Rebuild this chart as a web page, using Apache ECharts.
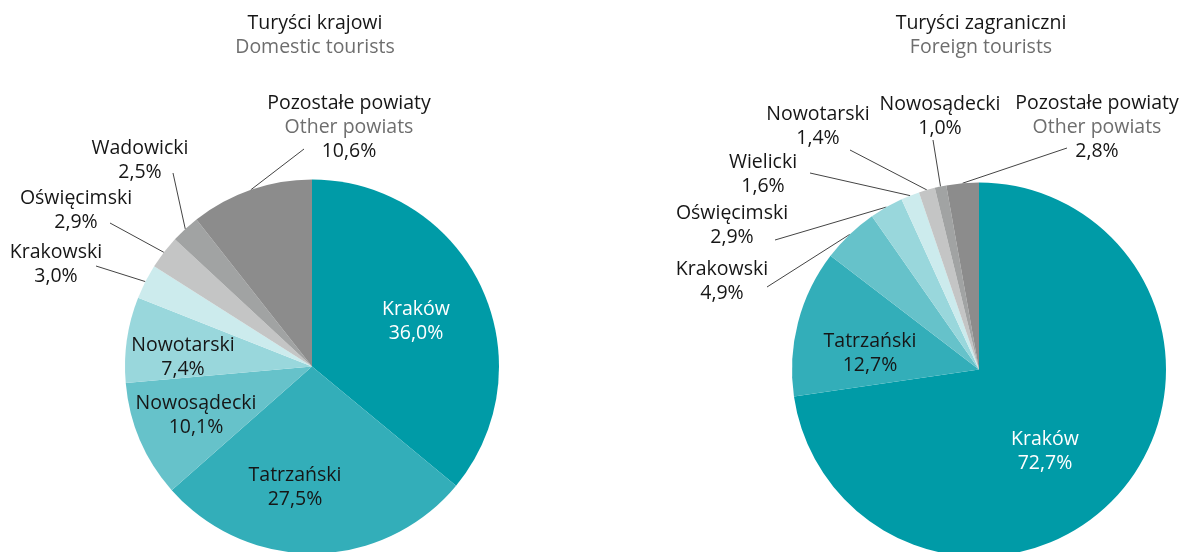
<!DOCTYPE html>
<html>
<head>
<meta charset="utf-8">
<script src="https://cdn.jsdelivr.net/npm/echarts@6/dist/echarts.min.js"></script>
<style>
html,body{margin:0;padding:0;background:#fff;}
#chart{width:1181px;height:552px;}
</style>
</head>
<body>
<div id="chart"></div>
<script>
// ---- data ----
const domesticNames = ['Kraków', 'Tatrzański', 'Nowosądecki', 'Nowotarski', 'Krakowski', 'Oświęcimski', 'Wadowicki', 'Pozostałe powiaty'];
const domesticValues = [36.0, 27.5, 10.1, 7.4, 3.0, 2.9, 2.5, 10.6];
const foreignNames = ['Kraków', 'Tatrzański', 'Krakowski', 'Oświęcimski', 'Wielicki', 'Nowotarski', 'Nowosądecki', 'Pozostałe powiaty'];
const foreignValues = [72.7, 12.7, 4.9, 2.9, 1.6, 1.4, 1.0, 2.8];
const otherNameEn = 'Other powiats';
const titlesPl = ['Turyści krajowi', 'Turyści zagraniczni'];
const titlesEn = ['Domestic tourists', 'Foreign tourists'];

// ---- styles / layout ----
const FONT = 'Open Sans';
const FS = 19.5;
const sliceColors = ['#009BA7', '#33AEB9', '#66C2CA', '#99D7DC', '#CCEBED', '#C4C5C5', '#A1A3A3', '#8C8C8C'];
const insideCount = [4, 2];
// label centre and leader line end point for each slice (layout only)
const labelLayouts = [
  [
    {c: [416, 321]}, {c: [295, 487]}, {c: [196, 415]}, {c: [183, 357]},
    {c: [56, 264], e: [96, 266]}, {c: [76, 210], e: [110, 223]}, {c: [140, 160], e: [173, 173]}, {c: [349, 127], e: [304, 149]}
  ],
  [
    {c: [1045, 451]}, {c: [870, 353]},
    {c: [722, 281], e: [767, 287]}, {c: [732, 225], e: [775, 240]}, {c: [763, 174], e: [810, 173]},
    {c: [818, 126], e: [850, 150]}, {c: [940, 116], e: [933, 140]}, {c: [1097, 127], e: [1067, 148]}
  ]
];
const centers = [[312, 366.5], [979, 369.5]];
const R = 187;

function fmt(v) { return v.toFixed(1).replace('.', ',') + '%'; }

function buildSeries(idx, names, values) {
  return {
    type: 'pie',
    center: centers[idx],
    radius: [0, R],
    startAngle: 90,
    clockwise: true,
    animation: false,
    silent: true,
    avoidLabelOverlap: false,
    itemStyle: {borderWidth: 0},
    data: names.map((n, i) => {
      const inside = i < insideCount[idx];
      const isOther = n === 'Pozostałe powiaty';
      return {
        name: n,
        value: values[i],
        itemStyle: {color: sliceColors[i]},
        label: {
          position: inside ? 'inside' : 'outside',
          formatter: isOther
            ? '{n|' + n + '}\n{e|' + otherNameEn + '}\n{n|' + fmt(values[i]) + '}'
            : '{' + (i === 0 ? 'w' : 'n') + '|' + n + '}\n{' + (i === 0 ? 'w' : 'n') + '|' + fmt(values[i]) + '}'
        },
        labelLine: {show: !inside, length: 10, length2: 0}
      };
    }),
    label: {
      show: true,
      align: 'center',
      rich: {
        n: {fontFamily: FONT, fontSize: FS, fontWeight: 'normal', color: '#161616', lineHeight: 24, align: 'center'},
        w: {fontFamily: FONT, fontSize: FS, fontWeight: 'normal', color: '#ffffff', lineHeight: 24, align: 'center'},
        e: {fontFamily: FONT, fontSize: FS, fontWeight: 'normal', color: '#6e6e6e', lineHeight: 24, align: 'center'}
      }
    },
    labelLine: {lineStyle: {color: '#444', width: 1}, smooth: false},
    labelLayout: function (p) {
      const L = labelLayouts[idx][p.dataIndex];
      const out = {x: L.c[0], y: L.c[1], align: 'center', verticalAlign: 'middle'};
      if (L.e) {
        let start;
        if (p.labelLinePoints && p.labelLinePoints[0]) {
          start = p.labelLinePoints[0];
        } else {
          const vals = idx === 0 ? domesticValues : foreignValues;
          const tot = vals.reduce((a, b) => a + b, 0);
          let cum = 0;
          for (let k = 0; k < p.dataIndex; k++) cum += vals[k];
          const a = (cum + vals[p.dataIndex] / 2) / tot * Math.PI * 2;
          start = [centers[idx][0] + R * Math.sin(a), centers[idx][1] - R * Math.cos(a)];
        }
        out.labelLinePoints = [start, L.e, L.e];
      }
      return out;
    }
  };
}

const chart = echarts.init(document.getElementById('chart'), null, {renderer: 'canvas'});
chart.setOption({
  backgroundColor: '#ffffff',
  animation: false,
  title: [0, 1].map(i => ({
    text: '{a|' + titlesPl[i] + '}\n{b|' + titlesEn[i] + '}',
    left: [310, 976][i],
    top: 6,
    textAlign: 'center',
    textStyle: {
      fontWeight: 'normal',
      rich: {
        a: {fontFamily: FONT, fontSize: FS, fontWeight: 'normal', color: '#161616', lineHeight: 24, align: 'center'},
        b: {fontFamily: FONT, fontSize: FS, fontWeight: 'normal', color: '#6e6e6e', lineHeight: 24, align: 'center'}
      }
    }
  })),
  series: [
    buildSeries(0, domesticNames, domesticValues),
    buildSeries(1, foreignNames, foreignValues)
  ]
});
</script>
</body>
</html>
